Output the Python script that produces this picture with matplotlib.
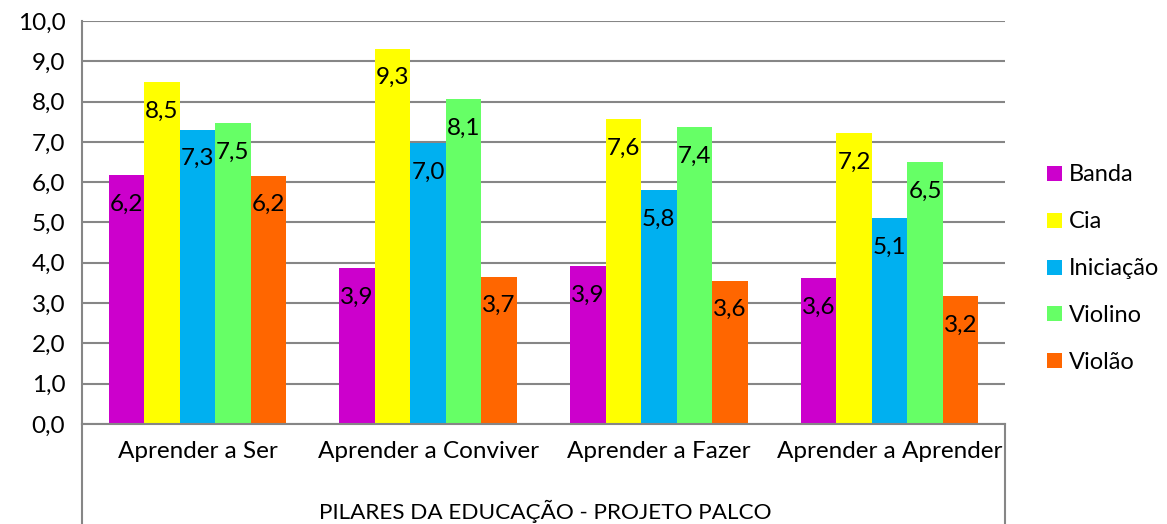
import numpy as np
import matplotlib.pyplot as plt
from matplotlib.lines import Line2D

plt.rcParams['font.family'] = ['Lato', 'DejaVu Sans']

# data
categorias = ['Aprender a Ser', 'Aprender a Conviver', 'Aprender a Fazer', 'Aprender a Aprender']
series = ['Banda', 'Cia', 'Iniciação', 'Violino', 'Violão']
banda = [6.18, 3.87, 3.92, 3.62]
cia = [8.49, 9.31, 7.56, 7.22]
iniciacao = [7.30, 6.97, 5.81, 5.11]
violino = [7.47, 8.06, 7.37, 6.50]
violao = [6.16, 3.66, 3.56, 3.18]
cores = ['#CC00CC', '#FFFF00', '#00B0F0', '#66FF66', '#FF6600']
titulo_eixo = 'PILARES DA EDUCAÇÃO - PROJETO PALCO'

valores = [banda, cia, iniciacao, violino, violao]
FS = 17.5

fig = plt.figure(figsize=(11.67, 5.24), dpi=100)
ax = fig.add_axes([82 / 1167, 100 / 524, 923 / 1167, 403 / 524])

x = np.arange(len(categorias))
w = 1 / 6.5
for i, (nome, vals, cor) in enumerate(zip(series, valores, cores)):
    pos = x + (i - 2) * w
    ax.bar(pos, vals, width=w, color=cor, label=nome, zorder=2)
    for px, v in zip(pos, vals):
        ax.text(px, v - 0.72, f'{v:.1f}'.replace('.', ','), ha='center', va='center',
                fontsize=FS, color='black', zorder=3)

ax.set_xlim(-0.5, len(categorias) - 0.5)
ax.set_ylim(0, 10)
ax.set_yticks(np.arange(0, 11, 1))
ax.set_yticklabels([f'{t:.1f}'.replace('.', ',') for t in range(11)], fontsize=FS)
ax.yaxis.grid(True, color='#868686', lw=1.5, zorder=0)
ax.tick_params(axis='y', length=0, pad=12)
ax.set_xticks(x)
ax.set_xticklabels(categorias, fontsize=FS)
ax.tick_params(axis='x', length=0, pad=12)

for s in ['top', 'right']:
    ax.spines[s].set_visible(False)
for s in ['left', 'bottom']:
    ax.spines[s].set_color('#868686')
    ax.spines[s].set_linewidth(1.5)

# caixa das categorias abaixo do eixo
for xx in [0, 1]:
    ax.add_line(Line2D([xx, xx], [0, -0.26], transform=ax.transAxes, color='#868686',
                       lw=1.5, clip_on=False))

fig.text(545 / 1167, 1 - 511 / 524, titulo_eixo, ha='center', va='center', fontsize=16.2)

ax.legend(loc='center left', bbox_to_anchor=(1.028, 0.385), frameon=False, fontsize=17,
          handlelength=0.6, handleheight=0.6, handletextpad=0.3, labelspacing=1.1,
          borderaxespad=0.3)

fig.savefig('out.png', dpi=100)
